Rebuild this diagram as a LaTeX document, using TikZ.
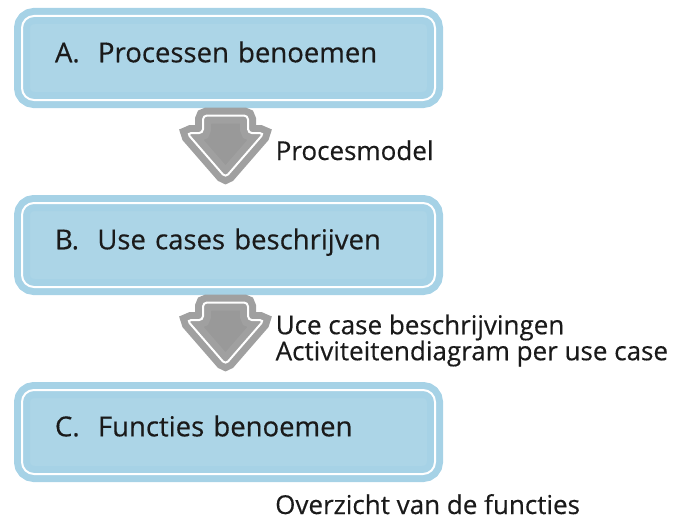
\documentclass[tikz,border=0pt]{standalone}
\usepackage{fontspec}
\setmainfont{Open Sans}[FakeBold=0.4]
\usetikzlibrary{positioning,shapes.arrows,calc}
\definecolor{boxfill}{HTML}{ACD5E7}
\definecolor{boxring}{HTML}{A6D2E6}
\definecolor{arrfill}{HTML}{999999}
\definecolor{arrring}{HTML}{A0A0A0}
\definecolor{txt}{HTML}{1A1A1A}
\newcommand{\stepfont}{\fontsize{27.5pt}{27.5pt}\selectfont}
\newcommand{\outfont}{\fontsize{26pt}{26pt}\selectfont}

\begin{document}
\begin{tikzpicture}[node distance=103pt,
  box/.style={draw=boxring,double=white,double distance=2pt,line width=7pt,fill=boxfill,rounded corners=12pt,text width=347pt,inner xsep=33pt,inner ysep=0pt,outer sep=0pt,minimum height=84pt,align=left,text height=20pt,text depth=11.4pt,font=\stepfont,text=txt},
  flow/.style={single arrow,rotate=-90,draw=arrring,double=white,double distance=2pt,line width=7pt,fill=arrfill,rounded corners=4pt,single arrow head extend=16pt,single arrow tip angle=82,inner xsep=14.5pt,inner ysep=19pt,outer sep=0pt},
  lbl/.style={inner sep=0pt,font=\outfont,text=txt}]
\useasboundingbox (0,0) rectangle (677pt,-519pt);
% de drie stappen
\node[box] (boxA) at (228.5pt,-58pt) {A.\ \ Processen benoemen};
\node[box,below=of boxA] (boxB) {B.\ \ Use cases beschrijven};
\node[box,below=of boxB] (boxC) {C.\ \ Functies benoemen};
% pijlen met resultaat
\node[flow] (flowAB) at ($(boxA.south)!.5!(boxB.north)+(-3pt,18pt)$) {};
\node[flow] (flowBC) at ($(boxB.south)!.5!(boxC.north)+(-3pt,18pt)$) {};
\node[lbl,anchor=base west] (outAB) at ($(flowAB.center)+(50pt,-26.5pt)$) {Procesmodel};
\node[lbl,anchor=west,align=left] (outBC) at ($(flowBC.center)+(50pt,-20pt)$) {Uce case beschrijvingen\\Activiteitendiagram per use case};
\node[lbl,anchor=base west] (outC) at ($(boxC.south)+(46.5pt,-40pt)$) {Overzicht van de functies};
\end{tikzpicture}
\end{document}
